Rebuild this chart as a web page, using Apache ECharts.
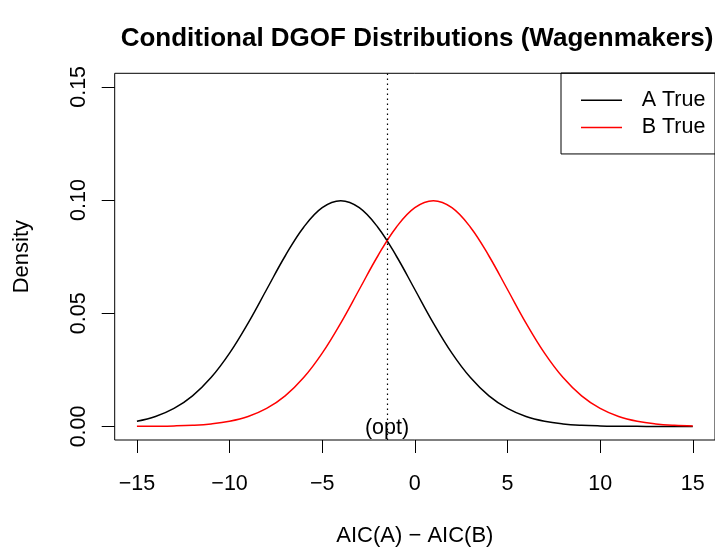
<!DOCTYPE html>
<html>
<head>
<meta charset="utf-8">
<script src="https://cdn.jsdelivr.net/npm/echarts@6/dist/echarts.min.js"></script>
<style>
  html, body { margin: 0; padding: 0; background: #fff; }
  #chart { width: 715px; height: 552px; }
</style>
</head>
<body>
<div id="chart"></div>
<script>
// AIC(A) - AIC(B) grid
const xValues = [-15, -14, -13, -12, -11, -10, -9, -8, -7, -6, -5, -4, -3, -2, -1, 0,
  1, 2, 3, 4, 5, 6, 7, 8, 9, 10, 11, 12, 13, 14, 15];
// density when A is true
const densityA = [0.00227, 0.00438, 0.00794, 0.01350, 0.02157, 0.03238, 0.04566, 0.06049,
  0.07529, 0.08802, 0.09667, 0.09974, 0.09667, 0.08802, 0.07529, 0.06049, 0.04566,
  0.03238, 0.02157, 0.01350, 0.00794, 0.00438, 0.00227, 0.00111, 0.00051, 0.00022,
  0.00009, 0.00003, 0.00001, 0.00000, 0.00000];
// density when B is true
const densityB = [0.00003, 0.00009, 0.00022, 0.00051, 0.00111, 0.00227, 0.00438, 0.00794,
  0.01350, 0.02157, 0.03238, 0.04566, 0.06049, 0.07529, 0.08802, 0.09667, 0.09974,
  0.09667, 0.08802, 0.07529, 0.06049, 0.04566, 0.03238, 0.02157, 0.01350, 0.00794,
  0.00438, 0.00227, 0.00111, 0.00051, 0.00022];
const xTicks = [-15, -10, -5, 0, 5, 10, 15];
const yTicks = [0, 0.05, 0.1, 0.15];
const optCut = -1.5;

const font = "'Liberation Sans', Arial, sans-serif";

const toPairs = (ys) => xValues.map((x, i) => [x, ys[i]]);

let chart = echarts.init(document.getElementById("chart"), null, { renderer: "canvas" });

let option = {
  backgroundColor: "#fff",
  animation: false,
  textStyle: { fontFamily: font },
  title: {
    text: "Conditional DGOF Distributions (Wagenmakers)",
    left: 412,
    textAlign: "center",
    top: 21,
    textStyle: { fontFamily: font, fontSize: 26, fontWeight: "bold", color: "#000" },
  },
  legend: {
    orient: "vertical",
    left: 561,
    top: 73,
    padding: [16.25, 30, 15.5, 20],
    icon: "rect",
    itemWidth: 41,
    itemHeight: 1.5,
    itemGap: 5.2,
    borderColor: "#000",
    borderWidth: 1,
    borderRadius: 0,
    textStyle: { fontFamily: font, fontSize: 21.5, color: "#000", padding: [0, 0, 0, 14.7] },
    data: ["A True", "B True"],
  },
  grid: {
    left: 114.7,
    right: -2.3,
    top: 73.3,
    bottom: 552 - 442.7,
    show: true,
    borderColor: "#000",
    borderWidth: 1,
    backgroundColor: "transparent",
  },
  xAxis: {
    type: "value",
    min: -16.2,
    max: 16.2,
    name: "AIC(A) \u2212 AIC(B)",
    nameLocation: "middle",
    nameGap: 85,
    nameTextStyle: { fontFamily: font, fontSize: 22, color: "#000" },
    axisLine: { show: false, onZero: false },
    splitLine: { show: false },
    axisTick: {
      show: true,
      inside: false,
      length: 13,
      customValues: xTicks,
      lineStyle: { color: "#000", width: 1 },
    },
    axisLabel: {
      customValues: xTicks,
      margin: 33,
      fontFamily: font,
      fontSize: 21.5,
      color: "#000",
      formatter: (v) => String(v).replace("-", "\u2212"),
    },
  },
  yAxis: {
    type: "value",
    min: -0.006,
    max: 0.156,
    name: "Density",
    nameLocation: "middle",
    nameGap: 81.7,
    nameRotate: 90,
    nameTextStyle: { fontFamily: font, fontSize: 22, color: "#000" },
    axisLine: { show: false, onZero: false },
    splitLine: { show: false },
    axisTick: {
      show: true,
      inside: false,
      length: 13,
      customValues: yTicks,
      lineStyle: { color: "#000", width: 1 },
    },
    axisLabel: {
      customValues: yTicks,
      rotate: 90,
      margin: 25,
      fontFamily: font,
      fontSize: 21.5,
      color: "#000",
      formatter: (v) => v.toFixed(2),
    },
  },
  series: [
    {
      name: "A True",
      type: "line",
      data: toPairs(densityA),
      smooth: 0.4,
      symbol: "none",
      lineStyle: { color: "#000", width: 1.5 },
      itemStyle: { color: "#000" },
      markLine: {
        silent: true,
        symbol: "none",
        label: { show: false },
        lineStyle: { color: "#000", width: 1.2, type: [1.5, 3.5] },
        data: [{ xAxis: optCut }],
      },
      markPoint: {
        silent: true,
        symbol: "circle",
        symbolSize: 0,
        label: {
          show: true,
          formatter: "(opt)",
          position: "inside",
          offset: [0, 2],
          fontFamily: font,
          fontSize: 21.5,
          color: "#000",
        },
        data: [{ coord: [optCut, 0] }],
      },
    },
    {
      name: "B True",
      type: "line",
      data: toPairs(densityB),
      smooth: 0.4,
      symbol: "none",
      lineStyle: { color: "#ff0000", width: 1.5 },
      itemStyle: { color: "#ff0000" },
    },
  ],
};
chart.setOption(option);
</script>
</body>
</html>
